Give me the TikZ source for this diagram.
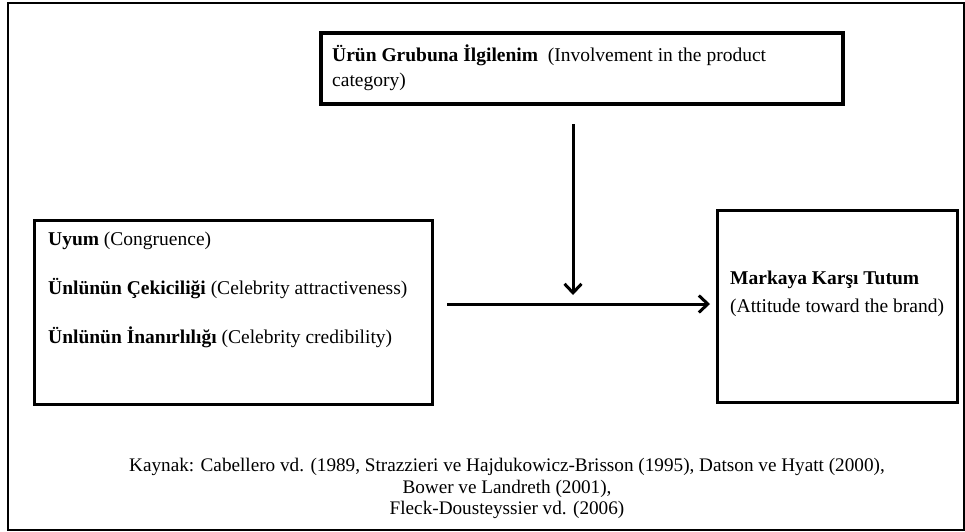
\documentclass[tikz,border=0pt]{standalone}
\usepackage{fontspec}
\setmainfont{Liberation Serif}
\usetikzlibrary{arrows.meta}
\begin{document}
\begin{tikzpicture}[x=1pt,y=-1pt,
  txt/.style={font=\fontsize{19.5}{24}\selectfont, inner sep=0pt, anchor=base west},
  captxt/.style={font=\fontsize{19.2}{24}\selectfont, inner sep=0pt, anchor=base},
  boxframe/.style={draw, line width=3pt, inner sep=0pt, anchor=north west},
  conn/.style={line width=3pt, -{Straight Barb[length=9pt,width=17pt,line width=3pt]}}]
\useasboundingbox (0,0) rectangle (965,531);
\node[draw, line width=2pt, inner sep=0pt, anchor=north west, minimum width=956pt, minimum height=527pt] (frame) at (7,2) {};
% boxes
\node[boxframe, line width=3.5pt, minimum width=522pt, minimum height=71pt] (top) at (319,31) {};
\node[boxframe, minimum width=398pt, minimum height=184pt] (left) at (33,219) {};
\node[boxframe, minimum width=240pt, minimum height=192pt] (right) at (716,209) {};
% texts
\node[txt] (t1) at (332,61) {\textbf{Ürün Grubuna İlgilenim}\ \ (Involvement in the product};
\node[txt] (t2) at (332,86) {category)};
\node[txt] (l1) at (48,245) {\textbf{Uyum} (Congruence)};
\node[txt] (l2) at (48,294) {\textbf{Ünlünün Çekiciliği} (Celebrity attractiveness)};
\node[txt] (l3) at (48,343) {\textbf{Ünlünün İnanırlılığı} (Celebrity credibility)};
\node[txt] (r1) at (730,284) {\textbf{Markaya Karşı Tutum}};
\node[txt] (r2) at (730,312) {(Attitude toward the brand)};
\node[captxt] (c1) at (507,471) {Kaynak: Cabellero vd. (1989, Strazzieri ve Hajdukowicz-Brisson (1995), Datson ve Hyatt (2000),};
\node[captxt] (c2) at (507,493) {Bower ve Landreth (2001),};
\node[captxt] (c3) at (507,514) {Fleck-Dousteyssier vd. (2006)};
% connectors
\coordinate (vs) at (573,124);
\coordinate (ve) at (573,295);
\coordinate (hs) at (447,304);
\draw[conn] (vs) -- (ve);
\draw[conn, shorten >=6pt] (hs) -- (right.west |- hs);
\end{tikzpicture}
\end{document}
